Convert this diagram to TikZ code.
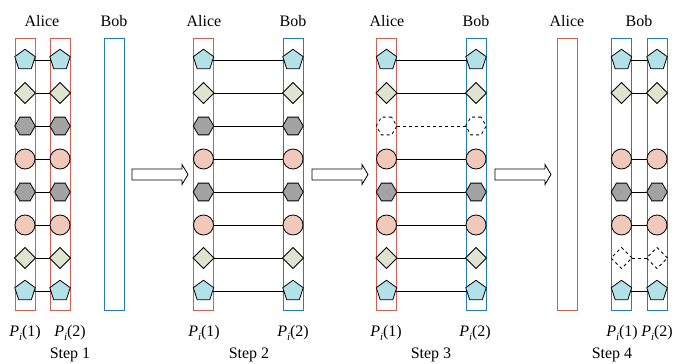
\documentclass[tikz,border=0pt]{standalone}
\usepackage{fontspec}
\setmainfont{Liberation Serif}
\usetikzlibrary{shapes.geometric}
\definecolor{pentc}{HTML}{B3E1E8}
\definecolor{diac}{HTML}{DEE4CD}
\definecolor{hexc}{HTML}{A3A3A3}
\definecolor{circc}{HTML}{F0C9BA}
\definecolor{redc}{HTML}{DE5A4E}
\definecolor{bluec}{HTML}{1F7AD0}
\newcommand{\plab}[1]{{\itshape P}\raisebox{-0.28em}{\fontsize{11}{11}\selectfont\itshape i}(#1)}
\begin{document}
\begin{tikzpicture}[x=1pt,y=-1pt,font=\fontsize{16}{19}\selectfont,
  shbase/.style={draw=black,line width=0.8pt,inner sep=0pt,outer sep=0pt},
  shpent/.style={shbase,regular polygon,regular polygon sides=5,minimum size=21.5pt,fill=pentc},
  shdia/.style={shbase,diamond,minimum width=21pt,minimum height=21pt,fill=diac},
  shhex/.style={shbase,regular polygon,regular polygon sides=6,minimum size=20.5pt,fill=hexc},
  shcirc/.style={shbase,circle,minimum size=20pt,fill=circc},
  ghost/.style={dashed,fill=none},
  colbox/.style={line width=1pt,minimum width=20pt,minimum height=272pt,inner sep=0pt},
  redcol/.style={colbox,draw=redc},
  bluecol/.style={colbox,draw=bluec},
  link/.style={line width=0.8pt},
  bigarrow/.style={draw=black,line width=0.8pt,fill=white}]
\useasboundingbox (0,0) rectangle (673,364);

% column boxes
\node[redcol]  (c1a) at (25,174) {};
\node[redcol]  (c1b) at (60,174) {};
\node[bluecol] (c1c) at (114,174) {};
\node[redcol]  (c2a) at (203.5,174) {};
\node[bluecol] (c2b) at (293,174) {};
\node[redcol]  (c3a) at (386.5,174) {};
\node[bluecol] (c3b) at (476,174) {};
\node[redcol]  (c4a) at (567,174) {};
\node[bluecol] (c4b) at (621.5,174) {};
\node[bluecol] (c4c) at (657,174) {};

% step 1
\foreach \s [count=\k] in {shpent,shdia,shhex,shcirc,shhex,shcirc,shdia,shpent}{
  \pgfmathsetmacro{\yy}{27+33*\k}
  \node[\s] (a1\k) at (25,\yy) {};
  \node[\s] (b1\k) at (60,\yy) {};
  \draw[link] (a1\k) -- (b1\k);
}
% step 2
\foreach \s [count=\k] in {shpent,shdia,shhex,shcirc,shhex,shcirc,shdia,shpent}{
  \pgfmathsetmacro{\yy}{27+33*\k}
  \node[\s] (a2\k) at (203.5,\yy) {};
  \node[\s] (b2\k) at (293,\yy) {};
  \draw[link] (a2\k) -- (b2\k);
}
% step 3
\foreach \s [count=\k] in {shpent,shdia,shhex,shcirc,shhex,shcirc,shdia,shpent}{
  \pgfmathsetmacro{\yy}{27+33*\k}
  \ifnum\k=3
    \node[\s,ghost] (a3\k) at (386.5,\yy) {};
    \node[\s,ghost] (b3\k) at (476,\yy) {};
    \draw[link,dashed] (a3\k) -- (b3\k);
  \else
    \node[\s] (a3\k) at (386.5,\yy) {};
    \node[\s] (b3\k) at (476,\yy) {};
    \draw[link] (a3\k) -- (b3\k);
  \fi
}
% step 4
\foreach \s [count=\k] in {shpent,shdia,shhex,shcirc,shhex,shcirc,shdia,shpent}{
  \pgfmathsetmacro{\yy}{27+33*\k}
  \ifnum\k=3\relax
  \else
    \ifnum\k=7
      \node[\s,ghost] (a4\k) at (621.5,\yy) {};
      \node[\s,ghost] (b4\k) at (657,\yy) {};
      \draw[link,dashed] (a4\k) -- (b4\k);
    \else
      \node[\s] (a4\k) at (621.5,\yy) {};
      \node[\s] (b4\k) at (657,\yy) {};
      \draw[link] (a4\k) -- (b4\k);
    \fi
  \fi
}

% arrows
\coordinate (ar1) at (132,174.5);
\coordinate (ar2) at (312,174.5);
\coordinate (ar3) at (495,174.5);
\foreach \a in {ar1,ar2,ar3}{
  \draw[bigarrow] (\a) ++(0,-5.5) -- ++(50,0) -- ++(0,-4.5) -- ++(6,10) -- ++(-6,10) -- ++(0,-4.5) -- ++(-50,0) -- cycle;
}

% top labels
\node (l1a) at (42,21) {Alice};
\node (l1b) at (114,21) {Bob};
\node (l2a) at (204,21) {Alice};
\node (l2b) at (293,21) {Bob};
\node (l3a) at (387,21) {Alice};
\node (l3b) at (476,21) {Bob};
\node (l4a) at (567,21) {Alice};
\node (l4b) at (639,21) {Bob};

% bottom labels
\node (p1a) at (25,333) {\plab{1}};
\node (p1b) at (70,333) {\plab{2}};
\node (p2a) at (204,333) {\plab{1}};
\node (p2b) at (293,333) {\plab{2}};
\node (p3a) at (386,333) {\plab{1}};
\node (p3b) at (475,333) {\plab{2}};
\node (p4a) at (622,333) {\plab{1}};
\node (p4b) at (657,333) {\plab{2}};

\node (s1) at (70,355) {Step 1};
\node (s2) at (249,355) {Step 2};
\node (s3) at (431,355) {Step 3};
\node (s4) at (612,355) {Step 4};
\end{tikzpicture}
\end{document}
